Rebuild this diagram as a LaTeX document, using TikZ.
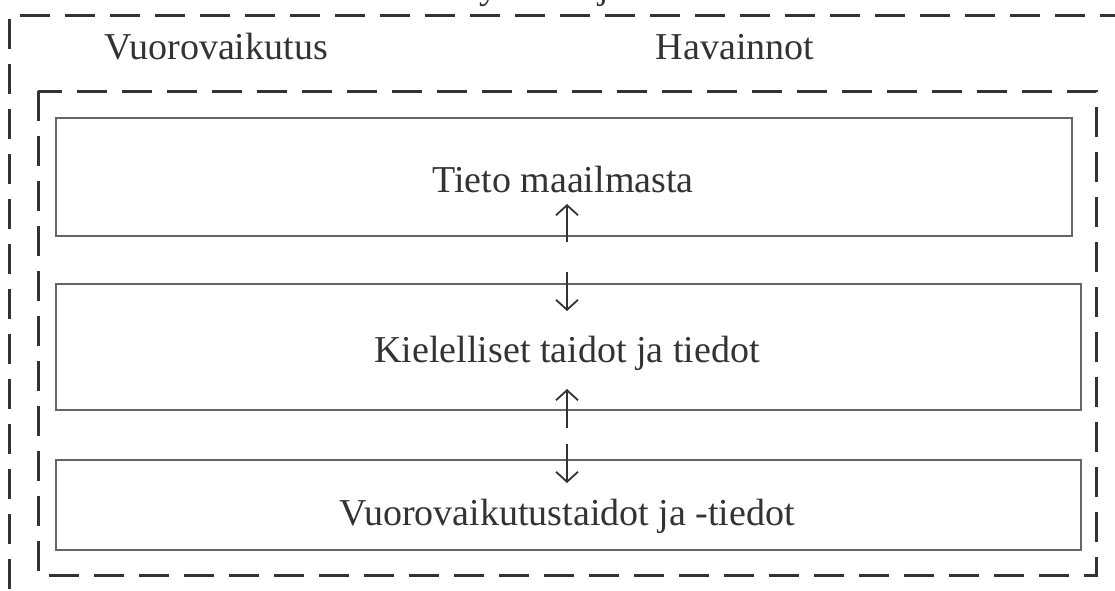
\documentclass[tikz,border=0pt]{standalone}
\usepackage{fontspec}
\setmainfont{Liberation Serif}
\usetikzlibrary{arrows.meta}
\definecolor{ink}{HTML}{333333}
\definecolor{boxline}{HTML}{666666}
\tikzset{
  dashframe/.style={draw=ink, line width=3pt, dash pattern=on 30pt off 15pt},
  layerbox/.style={draw=boxline, line width=1.6pt, rectangle, inner sep=0pt},
  lbl/.style={font=\fontsize{38}{40}\selectfont, text=ink},
  link/.style={draw=ink, line width=1.8pt, -{Straight Barb[length=10pt,width=22pt,line width=1.8pt]}}
}
\begin{document}
\begin{tikzpicture}[x=1pt,y=-1pt]
\useasboundingbox (0,0) rectangle (1115,590);
\begin{scope}
\clip (0,0) rectangle (1115,590);
% partially visible heading (cut off by the page edge)
\node[lbl, anchor=base, inner sep=0pt] (head) at (585,-2) {Kieliyhteisö ja kulttuuri};
% outer frame (extends beyond the picture)
\draw[dashframe] (1130,15) -- (9,15) -- (9,620);
\end{scope}
% inner frame
\draw[dashframe] (38,91) rectangle (1096,575);
% labels in the outer frame
\node[lbl, anchor=base] (vuoro) at (216,59) {Vuorovaikutus};
\node[lbl, anchor=base] (hav) at (735,59) {Havainnot};
% layer boxes
\node[layerbox, minimum width=1016pt, minimum height=118pt, anchor=north west] (b1) at (55,117) {};
\node[layerbox, minimum width=1025pt, minimum height=126pt, anchor=north west] (b2) at (55,283) {};
\node[layerbox, minimum width=1025pt, minimum height=90pt, anchor=north west] (b3) at (55,459) {};
\node[lbl, anchor=base] (t1) at (563,192) {Tieto maailmasta};
\node[lbl, anchor=base] (t2) at (567,362) {Kielelliset taidot ja tiedot};
\node[lbl, anchor=base] (t3) at (567,525) {Vuorovaikutustaidot ja -tiedot};
% arrows
\coordinate (a1s) at (567,242);
\coordinate (a1e) at (567,204);
\coordinate (a2s) at (567,272);
\coordinate (a2e) at (567,311);
\coordinate (a3s) at (567,428);
\coordinate (a3e) at (567,389);
\coordinate (a4s) at (567,444);
\coordinate (a4e) at (567,483);
\draw[link] (a1s) -- (a1e);
\draw[link] (a2s) -- (a2e);
\draw[link] (a3s) -- (a3e);
\draw[link] (a4s) -- (a4e);
\end{tikzpicture}
\end{document}
